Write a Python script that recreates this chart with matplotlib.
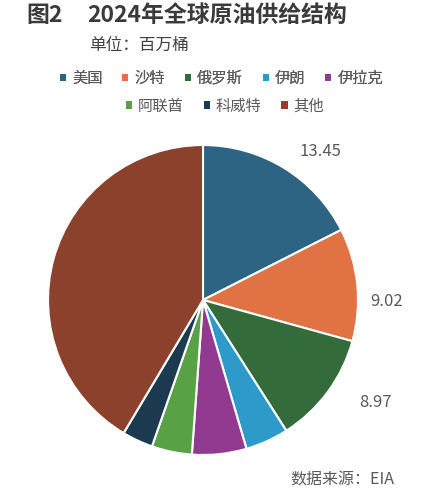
import numpy as np
import matplotlib
matplotlib.use('Agg')
import matplotlib.pyplot as plt
from matplotlib.patches import Patch

plt.rcParams['font.family'] = ['Noto Sans CJK SC', 'DejaVu Sans']

countries = ['美国', '沙特', '俄罗斯', '伊朗', '伊拉克', '阿联酋', '科威特', '其他']
supply = [13.45, 9.02, 8.97, 3.46, 4.35, 3.22, 2.47, 31.8]
shown = ['13.45', '9.02', '8.97', '', '', '', '', '']
colors = ['#2E6483', '#E07244', '#336B3B', '#2E9AC9', '#923A8F', '#58A144', '#1B3A4F', '#8B412B']

fig = plt.figure(figsize=(4.26, 4.99), dpi=100)
ax = fig.add_axes([0.1127, 0.0882, 0.7277, 0.6212])
wedges, _ = ax.pie(supply, colors=colors, startangle=90, counterclock=False,
                   wedgeprops=dict(edgecolor='white', linewidth=1.5))
ax.set_xlim(-1, 1)
ax.set_ylim(-1, 1)
ax.set_aspect('equal')
ax.axis('off')

# 数值标签（只标前三个）
nudge = [(13, -9), (-3, -15), (15, 7)]
for w, s, (ox, oy) in zip(wedges, shown, nudge + [(0, 0)] * 5):
    if not s:
        continue
    a = np.deg2rad((w.theta1 + w.theta2) / 2)
    ax.annotate(s, xy=(1.22 * np.cos(a), 1.22 * np.sin(a)), xytext=(ox, oy),
                textcoords='offset points', ha='center', va='center',
                fontsize=12, color='#595959', annotation_clip=False)

fig.text(0.063, 0.968, '图2', fontsize=16.5, fontweight='bold', color='#3a3a3a',
         ha='left', va='center')
fig.text(0.205, 0.968, '2024年全球原油供给结构', fontsize=16.5, fontweight='bold',
         color='#3a3a3a', ha='left', va='center')
fig.text(0.21, 0.909, '单位：百万桶', fontsize=12, color='#404040', ha='left', va='center')

handles = [Patch(facecolor=c, edgecolor='none') for c in colors]
leg_kw = dict(frameon=False, fontsize=11, labelcolor='#595959', handlelength=0.4,
              handleheight=0.4, handletextpad=0.4, columnspacing=1.3, borderpad=0)
leg1 = fig.legend(handles[:5], countries[:5], ncol=5, loc='center',
                  bbox_to_anchor=(0.52, 0.843), **leg_kw)
fig.add_artist(leg1)
fig.legend(handles[5:], countries[5:], ncol=3, loc='center',
           bbox_to_anchor=(0.528, 0.787), **leg_kw)

fig.text(0.925, 0.038, '数据来源：EIA', fontsize=11.5, color='#595959', ha='right', va='center')

fig.savefig('out.png', dpi=100)
